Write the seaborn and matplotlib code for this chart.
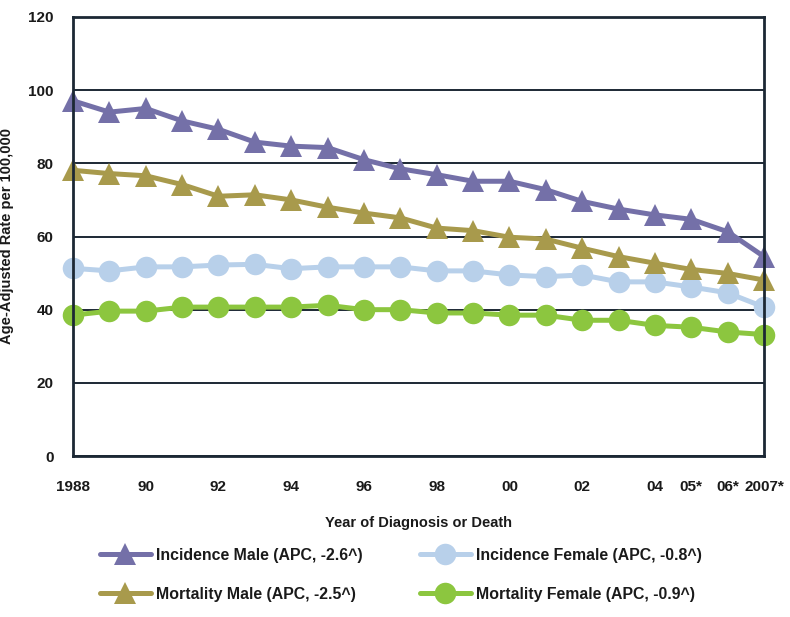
import matplotlib
matplotlib.use("Agg")
import matplotlib.pyplot as plt
import seaborn as sns
import pandas as pd

years = list(range(1988, 2008))
tick_labels = ["1988", "", "90", "", "92", "", "94", "", "96", "", "98", "",
               "00", "", "02", "", "04", "05*", "06*", "2007*"]

incidence_male = [97.1, 94.0, 95.0, 91.6, 89.3, 85.8, 84.7, 84.3, 81.0, 78.5,
                  76.9, 75.1, 75.1, 72.8, 69.6, 67.5, 65.9, 64.7, 61.3, 54.5]
mortality_male = [78.1, 77.2, 76.6, 74.2, 71.0, 71.4, 70.0, 68.0, 66.4, 65.1,
                  62.3, 61.6, 59.8, 59.3, 56.8, 54.5, 52.7, 51.0, 49.9, 48.1]
incidence_female = [51.3, 50.6, 51.7, 51.7, 52.2, 52.4, 51.2, 51.7, 51.7, 51.7,
                    50.6, 50.6, 49.5, 49.0, 49.5, 47.6, 47.6, 46.2, 44.6, 40.7]
mortality_female = [38.5, 39.6, 39.6, 40.7, 40.7, 40.7, 40.7, 41.2, 40.0, 40.0,
                    39.1, 39.1, 38.5, 38.5, 37.1, 37.1, 35.7, 35.2, 33.9, 33.2]

labels = {
    "im": "Incidence Male (APC, -2.6^)",
    "mm": "Mortality Male (APC, -2.5^)",
    "if": "Incidence Female (APC, -0.8^)",
    "mf": "Mortality Female (APC, -0.9^)",
}
colors = {"im": "#7470A8", "mm": "#A89A4C", "if": "#B8D0EA", "mf": "#8CC63F"}
markers = {"im": "^", "mm": "^", "if": "o", "mf": "o"}
series = {"im": incidence_male, "mm": mortality_male,
          "if": incidence_female, "mf": mortality_female}

sns.set_style("white")
plt.rcParams["font.family"] = ["Liberation Sans", "DejaVu Sans"]
plt.rcParams["font.weight"] = "bold"

dark = "#1c2834"
fig = plt.figure(figsize=(7.9, 6.17), dpi=100)
ax = fig.add_axes([73 / 790, 1 - 456 / 617, (764 - 73) / 790, (456 - 17) / 617])

handles = {}
for key in ["if", "mf", "im", "mm"]:
    df = pd.DataFrame({"year": years, "value": series[key]})
    sns.lineplot(data=df, x="year", y="value", ax=ax, color=colors[key],
                 marker=markers[key], markersize=15.5, markeredgewidth=0,
                 linewidth=3.6, legend=False, clip_on=False)
    handles[key] = ax.lines[-1]

ax.set_xlim(1988, 2007)
ax.set_ylim(0, 120)
ax.set_yticks(range(0, 121, 20))
ax.set_xticks(years)
ax.set_xticklabels(tick_labels)
ax.grid(axis="y", color=dark, linewidth=1.4)
ax.grid(axis="x", visible=False)
ax.set_axisbelow(True)
for s in ax.spines.values():
    s.set_color(dark)
    s.set_linewidth(2)
ax.tick_params(axis="x", direction="out", length=4, width=1.5, color=dark,
               pad=13, labelsize=11, labelcolor="#1a1a1a")
ax.tick_params(axis="y", length=0, pad=14, labelsize=11, labelcolor="#1a1a1a")
for t in ax.get_xticklabels() + ax.get_yticklabels():
    t.set_fontweight("bold")

ax.set_xlabel("Year of Diagnosis or Death", fontsize=10.5, fontweight="bold",
              color="#1a1a1a", labelpad=16)
ax.set_ylabel("Age-Adjusted Rate per 100,000", fontsize=10.5, fontweight="bold",
              color="#1a1a1a")
ax.yaxis.set_label_coords((14 - 73) / 691, 0.5)

order = ["im", "mm", "if", "mf"]
leg = fig.legend([handles[k] for k in order], [labels[k] for k in order],
                 loc="upper left", bbox_to_anchor=(100 / 790, 1 - 548 / 617),
                 ncol=2, frameon=False, fontsize=11.4, handlelength=3.2,
                 handletextpad=0.35, columnspacing=3.6, labelspacing=1.5,
                 borderpad=0, borderaxespad=0)
for t in leg.get_texts():
    t.set_fontweight("bold")
    t.set_color("#1a1a1a")

fig.savefig("out.png", dpi=100)
